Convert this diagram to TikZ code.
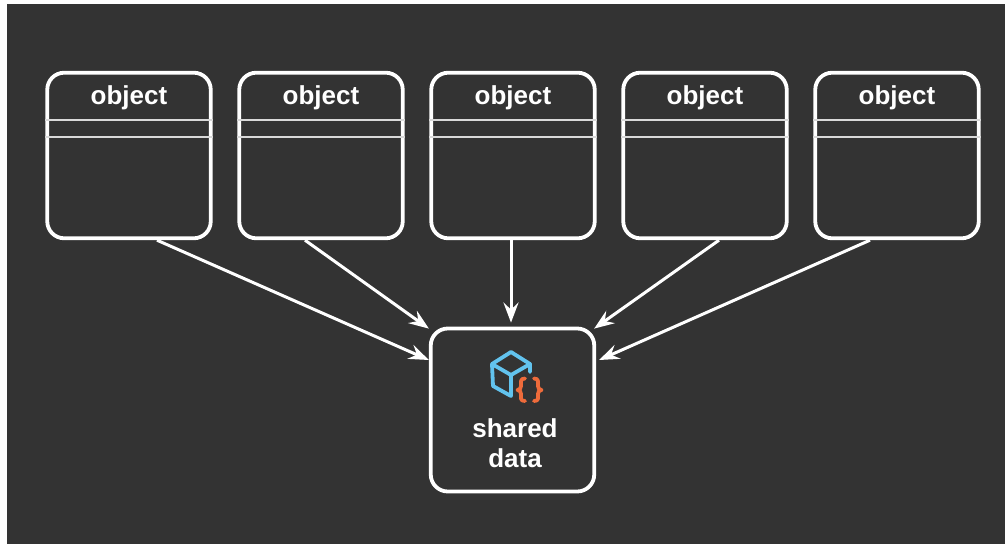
\documentclass[tikz,border=0pt]{standalone}
\usepackage{fontspec}
\setmainfont{Liberation Sans}
\usetikzlibrary{shapes.multipart}
\usetikzlibrary{arrows.meta}
\definecolor{panel}{HTML}{333333}
\definecolor{cube}{HTML}{62C3EE}
\definecolor{brace}{HTML}{EE6B3B}
\tikzset{
  objbox/.style={draw=white, line width=3.8pt, rounded corners=17pt,
    rectangle split, rectangle split parts=3, rectangle split draw splits=false,
    minimum width=163.5pt, inner xsep=0pt, inner ysep=0pt,
    text=white, font=\bfseries\fontsize{26}{30}\selectfont},
  splitline/.style={draw=white!85!black, line width=2pt},
  link/.style={draw=white, line width=3pt, -{Stealth[length=20pt, width=15pt, inset=7pt]}},
  cubeline/.style={draw=cube, line width=3.8pt, line cap=round, line join=round},
  braceline/.style={draw=brace, line width=3.8pt, line cap=round, line join=round}
}
\begin{document}
\begin{tikzpicture}[x=1pt, y=-1pt]
\useasboundingbox (0,0) rectangle (1005,544);
\fill[panel] (7,4) rectangle (1005,544);

\foreach \n/\x in {1/129, 2/321, 3/513, 4/705, 5/897} {
  \node[objbox] (obj\n) at (\x,155.5)
    {\rule[-13.4pt]{0pt}{43.4pt}object
       \nodepart{second} \rule{0pt}{13.4pt}
       \nodepart{third} \rule{0pt}{97.4pt}};
  \draw[splitline] (obj\n.text split west) -- (obj\n.text split east);
  \draw[splitline] (obj\n.second split west) -- (obj\n.second split east);
}

\node[draw=white, line width=3.8pt, rounded corners=17pt,
   minimum width=163.5pt, minimum height=163pt, inner sep=0pt] (shared) at (512.5,410) {};
\node[text=white, align=center, inner sep=0pt,
   font=\bfseries\fontsize{26}{30}\selectfont] (sharedtext) at (515,443) {shared\\data};

% icon
\draw[cubeline] (511,352) -- (530,364) -- (530,372);
\draw[cubeline] (511,352) -- (492,364) -- (493,386) -- (511,396) -- (511,375) -- (492,364);
\draw[cubeline] (511,375) -- (530,364);
\draw[braceline] (525,378.5) .. controls (520,378.5) and (521,382) .. (521,386)
  .. controls (521,388) and (520,390) .. (517.5,390)
  .. controls (520,390) and (521,392) .. (521,394)
  .. controls (521,398) and (520,401) .. (525,401);
\draw[braceline] (534,378.5) .. controls (539,378.5) and (538,382) .. (538,386)
  .. controls (538,388) and (539,390) .. (541.5,390)
  .. controls (539,390) and (538,392) .. (538,394)
  .. controls (538,398) and (539,401) .. (534,401);

\draw[link] ([xshift=28pt]obj1.south) -- ([xshift=0pt,yshift=50pt]shared.west);
\draw[link] ([xshift=-16pt]obj2.south) -- ([xshift=0pt,yshift=-2pt]shared.north west);
\draw[link] ([xshift=-2pt]obj3.south) -- ([xshift=-1.5pt,yshift=4pt]shared.north);
\draw[link] ([xshift=14pt]obj4.south) -- ([xshift=-2pt,yshift=-2pt]shared.north east);
\draw[link] ([xshift=-27pt]obj5.south) -- ([xshift=3pt,yshift=50pt]shared.east);
\end{tikzpicture}
\end{document}
